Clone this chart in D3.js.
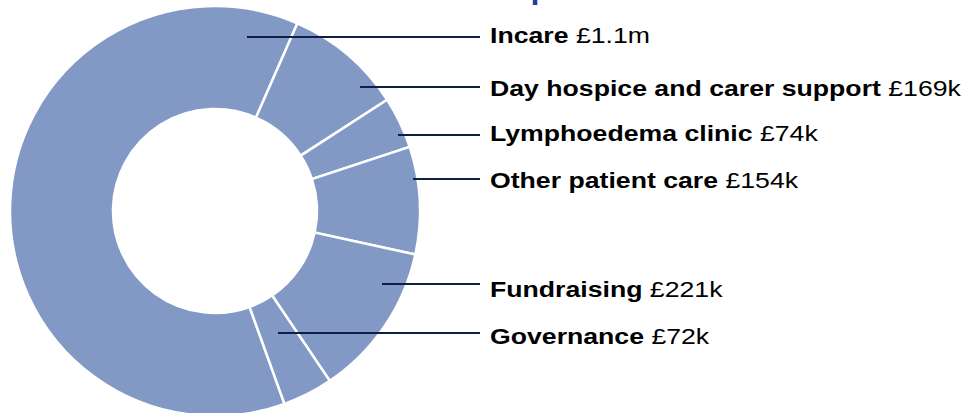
<!DOCTYPE html>
<html>
<head>
<meta charset="utf-8">
<script src="https://cdn.jsdelivr.net/npm/d3@7"></script>
<style>
  html, body { margin: 0; padding: 0; background: #fff; }
  svg { display: block; font-family: "Liberation Sans", Arial, sans-serif; }
</style>
</head>
<body>
<div class="expenditure-chart"></div>
<script>
'use strict';

var categories = ['Incare', 'Day hospice and carer support', 'Lymphoedema clinic', 'Other patient care', 'Fundraising', 'Governance'],
    values = [1130, 169, 74, 154, 221, 72],
    amountLabels = ['£1.1m', '£169k', '£74k', '£154k', '£221k', '£72k'];

var width = 963,
    height = 413,
    cx = 215,
    cy = 211,
    outerR = 205,
    innerR = 102,
    lineEndX = 480,
    textX = 490,
    stretch = 1.24, // the source text is drawn a little wide
    labelY = [37, 87, 135, 179, 284, 333],
    baseY = [43, 96, 141, 188, 297, 344],
    leadStartX = [247, 360, 398, 413, 382, 278],
    sliceColor = '#8299c6',
    lineColor = '#0d1f45';

var svg = d3.select('.expenditure-chart').append('svg')
  .attr('width', width)
  .attr('height', height);

// title is cut off at the top of the frame, only its lower edge shows
svg.append('text')
  .attr('transform', 'translate(491,0.3) scale(' + stretch + ',1)')
  .attr('font-size', 26)
  .attr('font-weight', 'bold')
  .attr('fill', '#1e3fa0')
  .text('Expenditure');

var deg = Math.PI / 180,
    total = d3.sum(values),
    // Day hospice starts at ~23.7deg clockwise from 12 o'clock
    start = 23.7 * deg - values[0] / total * 2 * Math.PI;

var pie = d3.pie().sort(null).value(function (d) { return d; })
  .startAngle(start).endAngle(start + 2 * Math.PI);

var arc = d3.arc().innerRadius(innerR).outerRadius(outerR);

var slices = pie(values);

var g = svg.append('g').attr('transform', 'translate(' + cx + ',' + cy + ')');

g.selectAll('path').data(slices).enter().append('path')
  .attr('d', arc)
  .attr('fill', sliceColor)
  .attr('stroke', '#fff')
  .attr('stroke-width', 2.5);

// leader lines from inside each slice out to the label column
svg.selectAll('line.lead').data(slices).enter().append('line')
  .attr('class', 'lead')
  .attr('x1', function (d, i) { return leadStartX[i]; })
  .attr('x2', lineEndX)
  .attr('y1', function (d, i) { return labelY[i]; })
  .attr('y2', function (d, i) { return labelY[i]; })
  .attr('stroke', lineColor)
  .attr('stroke-width', 2);

var labels = svg.selectAll('text.lab').data(categories).enter().append('text')
  .attr('class', 'lab')
  .attr('transform', function (d, i) {
    return 'translate(' + textX + ',' + baseY[i] + ') scale(' + stretch + ',1)';
  })
  .attr('font-size', 21.5)
  .attr('fill', '#000');

labels.append('tspan').attr('font-weight', 'bold').text(function (d) { return d; });
labels.append('tspan').text(function (d, i) { return ' ' + amountLabels[i]; });
</script>
</body>
</html>
